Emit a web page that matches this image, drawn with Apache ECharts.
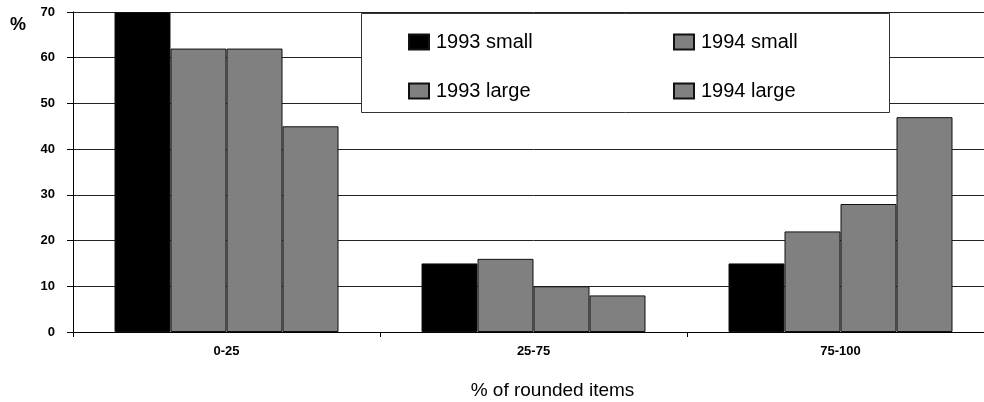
<!DOCTYPE html>
<html>
<head>
<meta charset="utf-8">
<script src="https://cdn.jsdelivr.net/npm/echarts@6/dist/echarts.min.js"></script>
<style>
  html, body { margin: 0; padding: 0; background: #fff; overflow: hidden; }
  /* the plot runs a little past the right edge of the window */
  #chart { width: 994px; height: 402px; }
</style>
</head>
<body>
<div id="chart"></div>
<script>
// Share of rounded items, by size band
const categories = ['0-25', '25-75', '75-100'];
const seriesNames = ['1993 small', '1994 small', '1993 large', '1994 large'];
const small1993 = [70, 15, 15];
const small1994 = [62, 16, 22];
const large1993 = [62, 10, 28];
const large1994 = [45, 8, 47];
const yTicks = [0, 10, 20, 30, 40, 50, 60, 70];

const FONT = '"Liberation Sans", Arial, sans-serif';
const colors = ['#000000', '#808080', '#808080', '#808080'];
const values = [small1993, small1994, large1993, large1994];

const chart = echarts.init(document.getElementById('chart'), null, { renderer: 'canvas' });

const series = seriesNames.map((name, i) => ({
  name: name,
  type: 'bar',
  data: values[i],
  barWidth: 56,
  barGap: '0%',
  itemStyle: { color: colors[i], borderColor: '#111', borderWidth: 1 },
  emphasis: { disabled: true },
  z: 3
}));

const legendCommon = {
  orient: 'vertical',
  top: 32,
  padding: 0,
  itemWidth: 20,
  itemHeight: 15,
  itemGap: 29,
  icon: 'rect',
  selectedMode: false,
  z: 20,
  textStyle: { fontFamily: FONT, fontSize: 20, color: '#000', padding: [0, 0, 0, 2] }
};

chart.setOption({
  animation: false,
  backgroundColor: '#fff',
  grid: { left: 73, right: 0, top: 12, bottom: 70, containLabel: false, outerBoundsMode: 'none' },
  legend: [
    Object.assign({}, legendCommon, { left: 408, data: [seriesNames[0], seriesNames[2]] }),
    Object.assign({}, legendCommon, { left: 673, data: [seriesNames[1], seriesNames[3]] })
  ],
  graphic: [
    {
      type: 'rect',
      z: 15,
      shape: { x: 361.5, y: 13.5, width: 528, height: 99 },
      style: { fill: '#fff', stroke: '#333', lineWidth: 1 }
    },
    {
      type: 'text',
      z: 15,
      left: 10,
      top: 16,
      style: { text: '%', font: 'bold 18px ' + FONT, fill: '#000' }
    }
  ],
  xAxis: {
    type: 'category',
    data: categories,
    axisLine: { lineStyle: { color: '#000', width: 1 } },
    axisTick: { show: true, inside: false, length: 5, lineStyle: { color: '#000' } },
    axisLabel: { margin: 13, fontFamily: FONT, fontSize: 13, fontWeight: 'bold', color: '#000' },
    name: '% of rounded items',
    nameLocation: 'middle',
    nameGap: 49,
    nameTextStyle: { fontFamily: FONT, fontSize: 19, color: '#000', padding: [0, 0, 0, 38] }
  },
  yAxis: {
    type: 'value',
    min: yTicks[0],
    max: yTicks[yTicks.length - 1],
    interval: 10,
    axisLine: { show: true, lineStyle: { color: '#000', width: 1 } },
    axisTick: { show: true, length: 6, lineStyle: { color: '#000' } },
    axisLabel: {
      margin: 18,
      fontFamily: FONT,
      fontSize: 13,
      fontWeight: 'bold',
      color: '#000',
      customValues: yTicks
    },
    splitLine: { show: true, lineStyle: { color: '#222', width: 1 } }
  },
  series: series
});
</script>
</body>
</html>
